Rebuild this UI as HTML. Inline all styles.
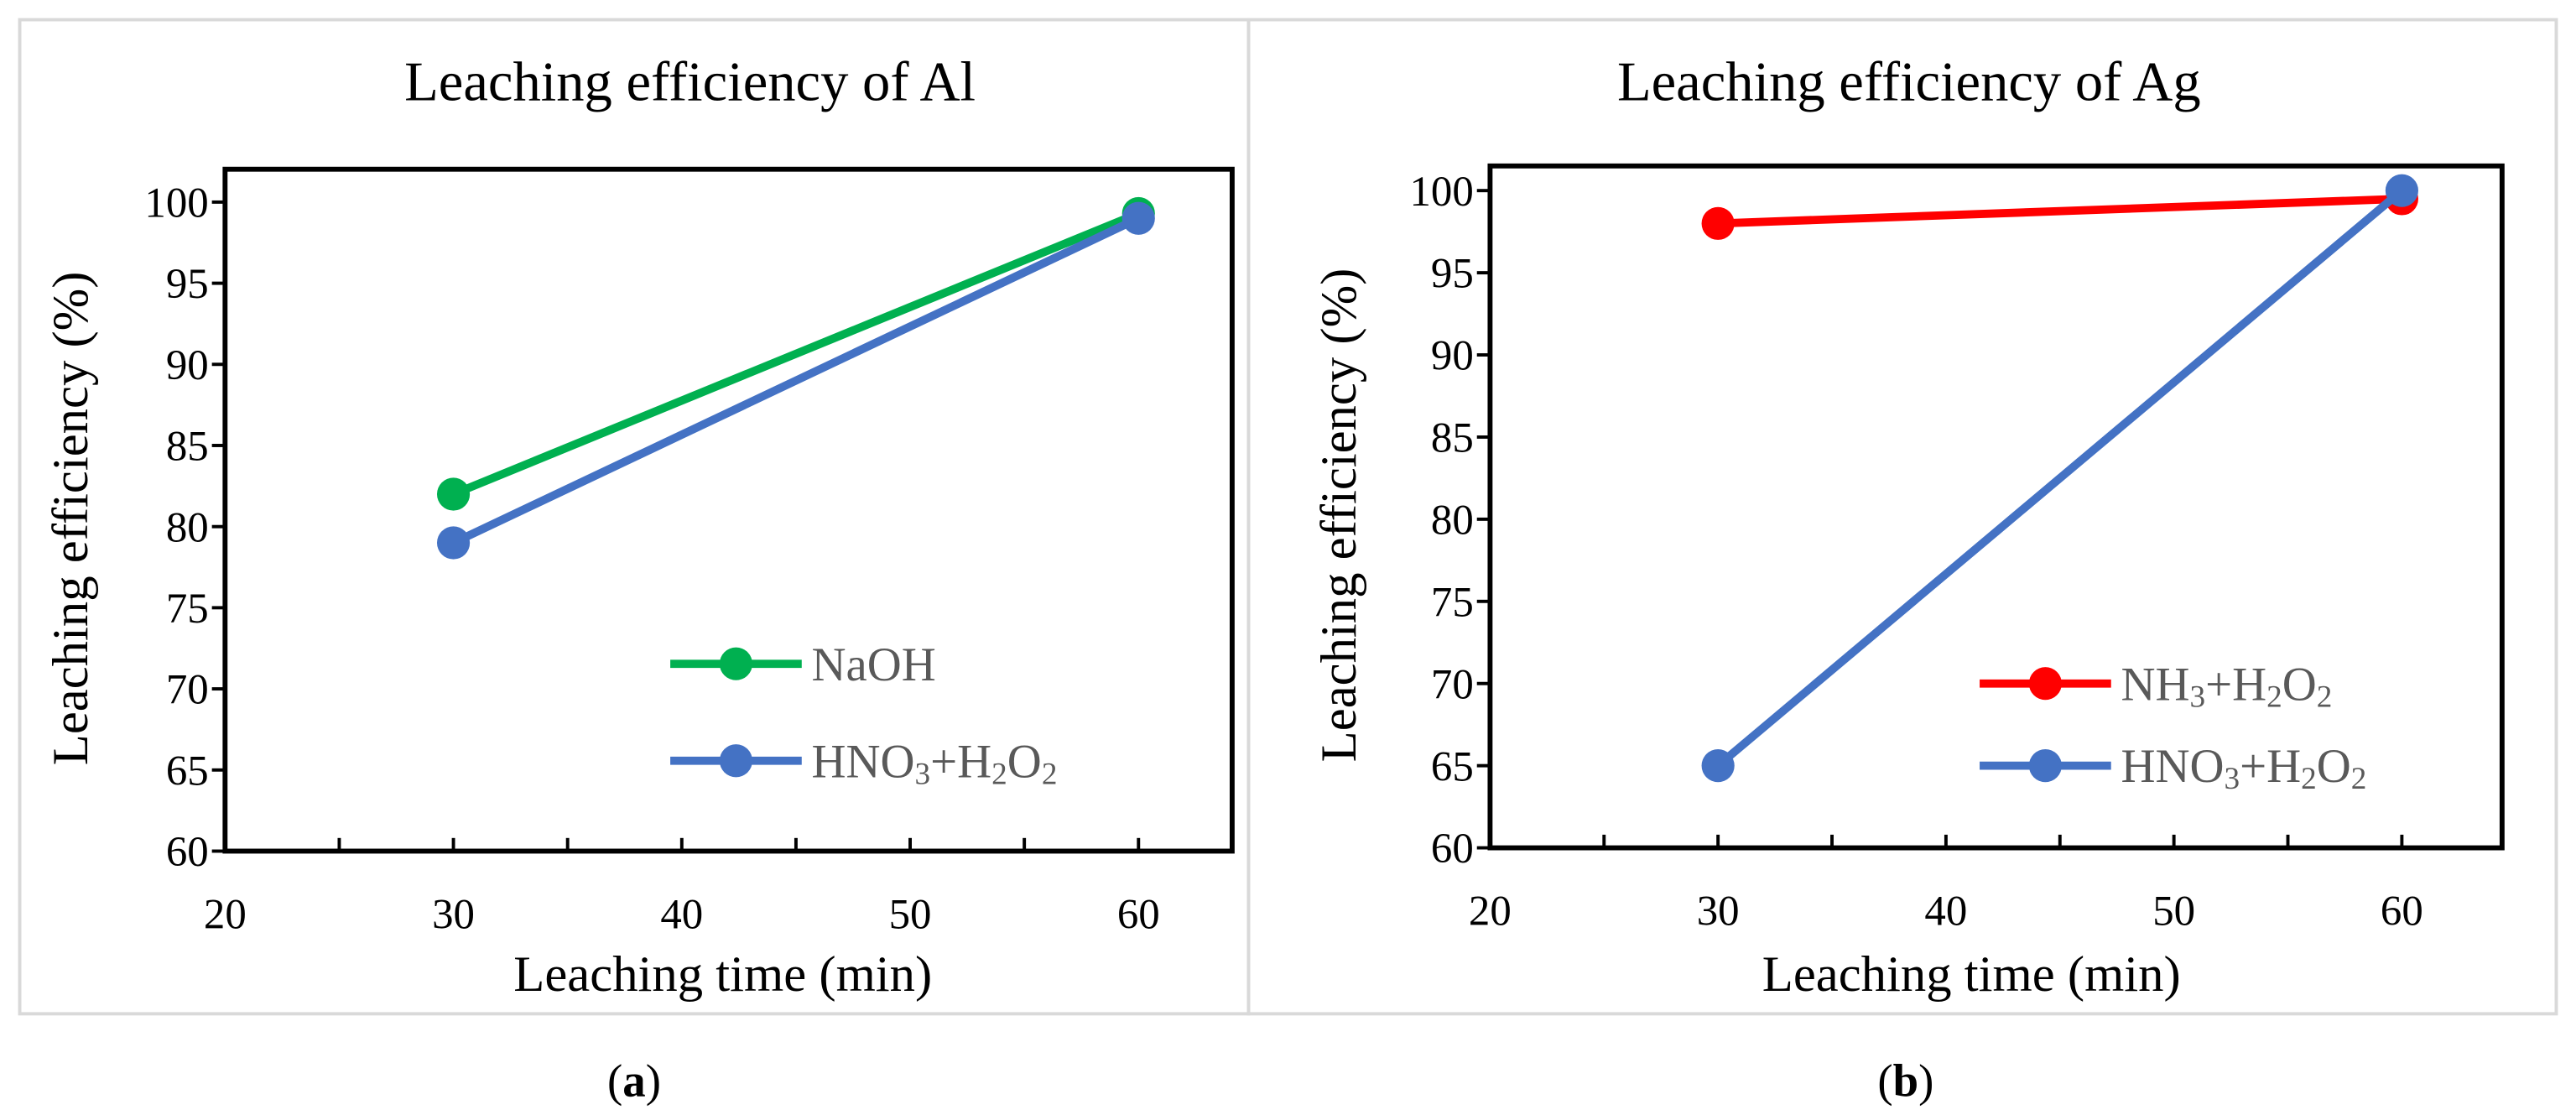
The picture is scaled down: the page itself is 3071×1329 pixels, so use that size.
<!DOCTYPE html>
<html><head><meta charset="utf-8"><style>
html,body{margin:0;padding:0;background:#fff}
svg{display:block}
svg text, svg tspan{font-family:"Liberation Serif",serif}
</style></head><body>
<svg id="fig" width="3071" height="1329" viewBox="0 0 1568 678.6" preserveAspectRatio="none" font-family="Liberation Serif, serif" xmlns="http://www.w3.org/2000/svg">
<rect x="12" y="12" width="748" height="605" fill="none" stroke="#d9d9d9" stroke-width="2"/>
<rect x="760" y="12" width="796" height="605" fill="none" stroke="#d9d9d9" stroke-width="2"/>
<text x="386" y="667" font-size="28" text-anchor="middle" font-family="Liberation Serif, serif">(<tspan font-weight="bold">a</tspan>)</text>
<text x="1160" y="667" font-size="28" text-anchor="middle" font-family="Liberation Serif, serif">(<tspan font-weight="bold">b</tspan>)</text>
</svg>
<script>
const xValues = [30, 60];
const alNaOH = [82, 99.3];
const alHNO3 = [79, 99];
const agNH3 = [98, 99.5];
const agHNO3 = [65, 100];
const yTicks = [60, 65, 70, 75, 80, 85, 90, 95, 100];
const xTicks = [20, 30, 40, 50, 60];
const xMinor = [25, 35, 45, 55];

const NS = 'http://www.w3.org/2000/svg';
const svg = document.getElementById('fig');
function mk(tag, attrs, parent, txt) {
  const e = document.createElementNS(NS, tag);
  for (const k in attrs) e.setAttribute(k, attrs[k]);
  if (tag === 'text') e.setAttribute('font-family', 'Liberation Serif, serif');
  if (txt !== undefined) e.innerHTML = String(txt);
  (parent || svg).appendChild(e);
  return e;
}
function chart(cfg) {
  const g = mk('g', {});
  
  
  const xs = v => cfg.x0 + (v - 20) / 40 * (cfg.x60 - cfg.x0);
  const ys = v => cfg.y60 - (v - 60) / 40 * (cfg.y60 - cfg.y100);
  const t = mk('text', {x: cfg.tx, y: 61, 'font-size': 34, 'text-anchor': 'middle'}, g, cfg.title);
  
  
  const fr = mk('rect', {x: cfg.x0, y: cfg.top, width: cfg.right - cfg.x0, height: cfg.y60 - cfg.top, fill: 'none', stroke: '#000', 'stroke-width': 3}, g);
  
  
  yTicks.forEach(v => {
    mk('line', {x1: cfg.x0 - 8, x2: cfg.x0, y1: ys(v), y2: ys(v), stroke: '#000', 'stroke-width': 2}, g);
    const l = mk('text', {x: cfg.x0 - 10, y: ys(v) + 9, 'font-size': 26, 'text-anchor': 'end'}, g, v);
    
    
  });
  xTicks.concat(xMinor).forEach(v => {
    if (v > 20) mk('line', {x1: xs(v), x2: xs(v), y1: cfg.y60, y2: cfg.y60 - 8, stroke: '#000', 'stroke-width': 2}, g);
  });
  xTicks.forEach(v => {
    const l = mk('text', {x: xs(v), y: cfg.y60 + 47, 'font-size': 26, 'text-anchor': 'middle'}, g, v);
    
    
  });
  const xt = mk('text', {x: cfg.xtx, y: 603, 'font-size': 31, 'text-anchor': 'middle'}, g, 'Leaching time (min)');
  
  
  const yt = mk('text', {x: 0, y: 0, 'font-size': 31, 'text-anchor': 'middle', transform: `translate(${cfg.ytx},${(cfg.top + cfg.y60) / 2 + 5}) rotate(-90)`}, g, 'Leaching efficiency (%)');
  
  
  cfg.series.forEach((s, i) => {
    const pts = xValues.map((x, j) => xs(x) + ',' + ys(s.data[j])).join(' ');
    const pl = mk('polyline', {points: pts, fill: 'none', stroke: s.color, 'stroke-width': 5}, g);
    
    
    xValues.forEach((x, j) => {
      const c = mk('circle', {cx: xs(x), cy: ys(s.data[j]), r: 10, fill: s.color}, g);
      
      
    });
    const ly = cfg.legY[i];
    const lg = mk('g', {}, g);
    
    
    mk('line', {x1: cfg.legX, x2: cfg.legX + 80, y1: ly, y2: ly, stroke: s.color, 'stroke-width': 5}, lg);
    mk('circle', {cx: cfg.legX + 40, cy: ly, r: 10, fill: s.color}, lg);
    mk('text', {x: cfg.legX + 86, y: ly + 10, 'font-size': 29, fill: '#595959'}, lg, s.label);
  });
}
const sub = d => `<tspan font-size="19" baseline-shift="-4">${d}</tspan>`;
chart({name: 'chart-al', title: 'Leaching efficiency of Al', tx: 420, x0: 137, x60: 693, right: 750, top: 103, y60: 518, y100: 123, xtx: 440, ytx: 53,
  legX: 408, legY: [404, 463],
  series: [{key: 'naoh', color: '#00b050', data: alNaOH, label: 'NaOH'},
           {key: 'hno3-h2o2', color: '#4472c4', data: alHNO3, label: 'HNO' + sub('3') + '+H' + sub('2') + 'O' + sub('2')}]});
chart({name: 'chart-ag', title: 'Leaching efficiency of Ag', tx: 1162, x0: 907, x60: 1462, right: 1523, top: 101, y60: 516, y100: 116, xtx: 1200, ytx: 825,
  legX: 1205, legY: [416, 466],
  series: [{key: 'nh3-h2o2', color: '#ff0000', data: agNH3, label: 'NH' + sub('3') + '+H' + sub('2') + 'O' + sub('2')},
           {key: 'hno3-h2o2', color: '#4472c4', data: agHNO3, label: 'HNO' + sub('3') + '+H' + sub('2') + 'O' + sub('2')}]});
</script>
</body></html>
